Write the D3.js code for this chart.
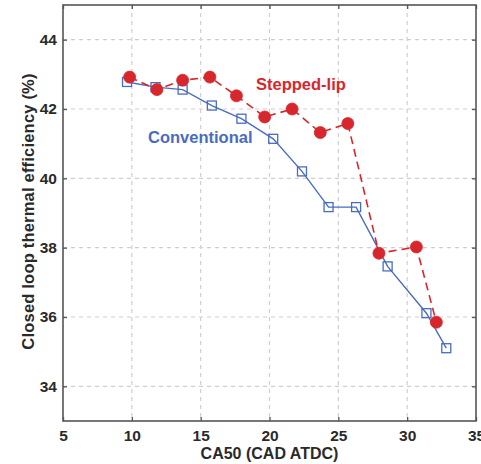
<!DOCTYPE html>
<html>
<head>
<meta charset="utf-8">
<script src="https://cdn.jsdelivr.net/npm/d3@7"></script>
<style>
  html, body { margin: 0; padding: 0; background: #fff; }
  svg { display: block; }
  text { font-family: "Liberation Sans", Arial, sans-serif; font-weight: bold; }
</style>
</head>
<body>
<svg id="chart" width="481" height="464"></svg>
<script>
// CA50 (CAD ATDC) and efficiency (%) for each piston geometry
const steppedX = [9.84, 11.82, 13.69, 15.67, 17.6, 19.65, 21.64, 23.69, 25.69, 27.95, 30.67, 32.12];
const steppedY = [42.92, 42.56, 42.83, 42.92, 42.38, 41.77, 42.0, 41.32, 41.58, 37.84, 38.02, 35.85];
const convX = [9.65, 11.72, 13.69, 15.81, 17.96, 20.27, 22.36, 24.29, 26.29, 28.58, 31.4, 32.84];
const convY = [42.78, 42.63, 42.56, 42.10, 41.72, 41.14, 40.20, 39.17, 39.17, 37.46, 36.11, 35.10];
const xTicks = [5, 10, 15, 20, 25, 30, 35];
const yTicks = [34, 36, 38, 40, 42, 44];

const RED = "#d8262d";
const BLUE = "#4a6cc0";
const AXIS = "#555";

const svg = d3.select("#chart");
const m = { left: 63, right: 476, top: 5, bottom: 421 };

const x = d3.scaleLinear().domain([5, 35]).range([m.left, m.right]);
const y = d3.scaleLinear().domain([33, 45]).range([m.bottom, m.top]);

// dashed grid
const grid = svg.append("g").attr("stroke", "#cfcfcf").attr("stroke-width", 1.2)
  .attr("stroke-dasharray", "4,4");
grid.selectAll(".gx").data(xTicks.slice(1, -1)).join("line")
  .attr("x1", d => x(d)).attr("x2", d => x(d))
  .attr("y1", m.top).attr("y2", m.bottom);
grid.selectAll(".gy").data(yTicks).join("line")
  .attr("x1", m.left).attr("x2", m.right)
  .attr("y1", d => y(d)).attr("y2", d => y(d));

// axes with inward ticks on all four sides
const tickLen = 4;
const axB = svg.append("g").attr("transform", `translate(0,${m.bottom})`)
  .call(d3.axisBottom(x).tickValues(xTicks).tickSize(-tickLen).tickPadding(9));
const axT = svg.append("g").attr("transform", `translate(0,${m.top})`)
  .call(d3.axisTop(x).tickValues(xTicks).tickSize(-tickLen).tickFormat(""));
const axL = svg.append("g").attr("transform", `translate(${m.left},0)`)
  .call(d3.axisLeft(y).tickValues(yTicks).tickSize(-tickLen).tickPadding(6));
const axR = svg.append("g").attr("transform", `translate(${m.right},0)`)
  .call(d3.axisRight(y).tickValues(yTicks).tickSize(-tickLen).tickFormat(""));

[axB, axT, axL, axR].forEach(g => {
  g.select(".domain").remove();
  g.selectAll(".tick line").attr("stroke", AXIS).attr("stroke-width", 1.3);
  g.selectAll("text").attr("fill", "#2a2a2a").style("font-size", "15.5px")
    .style("font-family", "'Liberation Sans', Arial, sans-serif").style("font-weight", "bold");
});

svg.append("rect")
  .attr("x", m.left).attr("y", m.top)
  .attr("width", m.right - m.left).attr("height", m.bottom - m.top)
  .attr("fill", "none").attr("stroke", AXIS).attr("stroke-width", 1.6);

// series
const stepped = steppedX.map((v, i) => [v, steppedY[i]]);
const conv = convX.map((v, i) => [v, convY[i]]);
const line = d3.line().x(d => x(d[0])).y(d => y(d[1]));

svg.append("path").datum(conv).attr("d", line)
  .attr("fill", "none").attr("stroke", BLUE).attr("stroke-width", 1.4);
svg.append("path").datum(stepped).attr("d", line)
  .attr("fill", "none").attr("stroke", RED).attr("stroke-width", 1.6)
  .attr("stroke-dasharray", "8,5");

const sq = 9;
svg.selectAll(".conv").data(conv).join("rect")
  .attr("x", d => x(d[0]) - sq / 2).attr("y", d => y(d[1]) - sq / 2)
  .attr("width", sq).attr("height", sq)
  .attr("fill", "none").attr("stroke", BLUE).attr("stroke-width", 1.3);

svg.selectAll(".step").data(stepped).join("circle")
  .attr("cx", d => x(d[0])).attr("cy", d => y(d[1])).attr("r", 6)
  .attr("fill", RED).attr("stroke", RED).attr("stroke-width", 0.8);

// series annotations
svg.append("text").attr("x", 256).attr("y", 89.5).attr("fill", RED)
  .style("font-size", "16.5px").text("Stepped-lip");
svg.append("text").attr("x", 148).attr("y", 142.5).attr("fill", BLUE)
  .style("font-size", "16.5px").text("Conventional");

// axis titles
svg.append("text").attr("x", (m.left + m.right) / 2).attr("y", 459)
  .attr("text-anchor", "middle").attr("fill", "#2a2a2a").style("font-size", "16px")
  .text("CA50 (CAD ATDC)");
svg.append("text").attr("transform", "translate(34,211.5) rotate(-90)")
  .attr("text-anchor", "middle").attr("fill", "#2a2a2a").style("font-size", "16.5px")
  .style("letter-spacing", "0.2px")
  .text("Closed loop thermal efficiency (%)");
</script>
</body>
</html>
